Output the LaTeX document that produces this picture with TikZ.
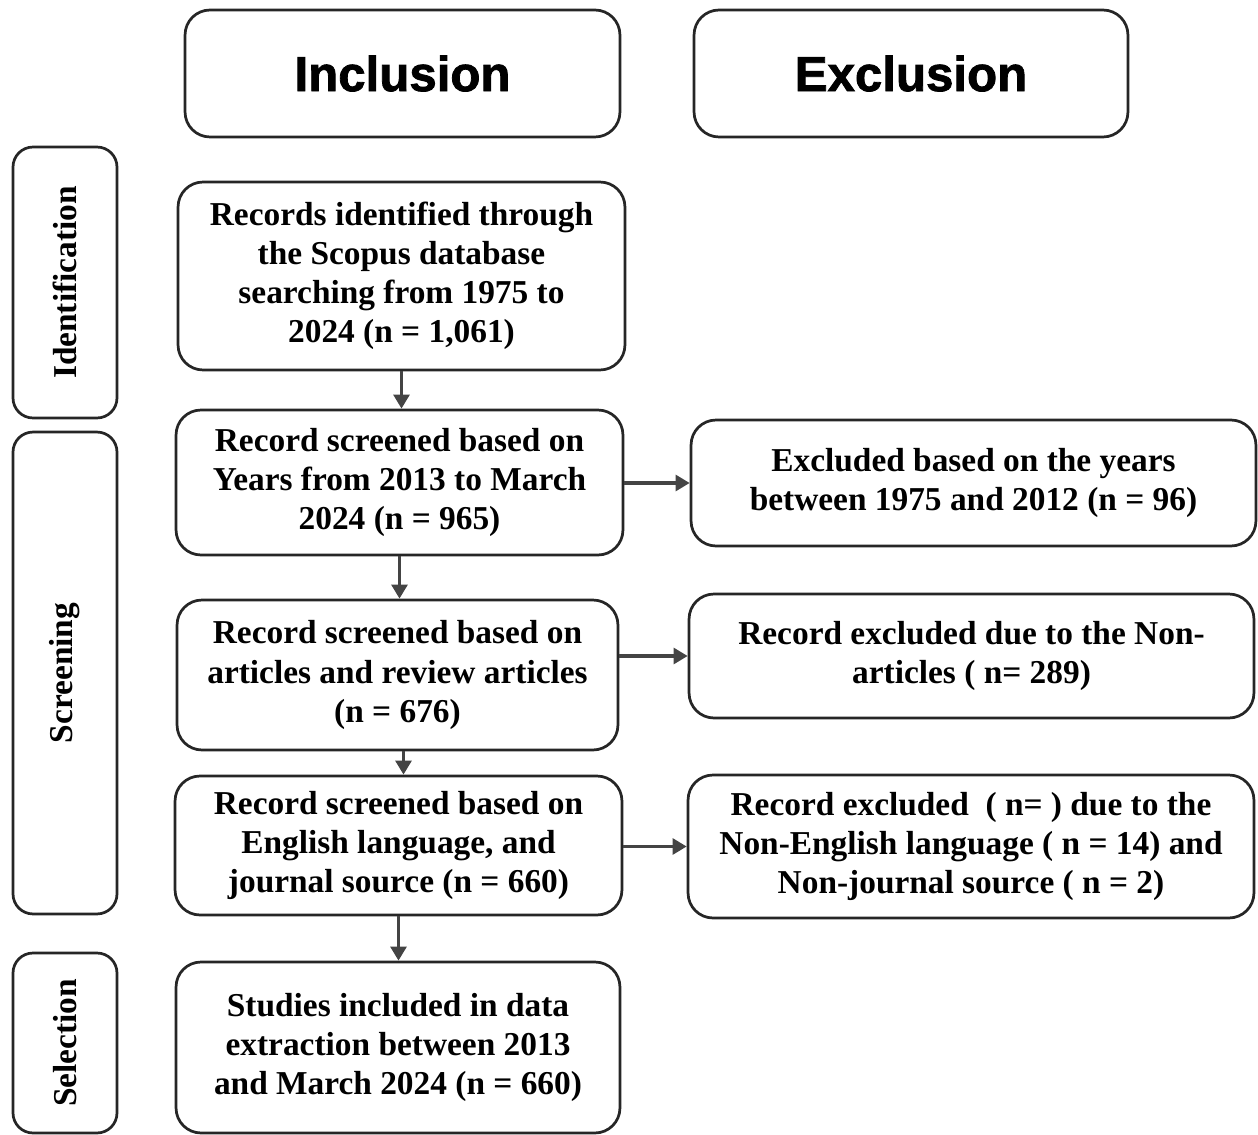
\documentclass[tikz,border=0pt]{standalone}
\usepackage{fontspec}
\setmainfont{Liberation Serif}
\newfontfamily\headfont{Liberation Sans}[BoldFeatures={FakeBold=1.6}]
\usetikzlibrary{arrows.meta}
\definecolor{edge}{HTML}{262626}
\definecolor{arr}{HTML}{444444}
\begin{document}
\begin{tikzpicture}[x=0.02cm,y=-0.02cm,
  box/.style={draw=edge, line width=1.55pt, rounded corners=0.5cm, align=center,
    inner sep=0pt, font=\fontsize{19}{22.3}\selectfont\bfseries},
  headbox/.style={box, font=\headfont\fontsize{28}{32}\selectfont\bfseries},
  sidebox/.style={box, rotate=90, rounded corners=0.4cm},
  conn/.style={draw=arr, line width=1.9pt, -{Triangle[length=8pt,width=9pt]}}]
\useasboundingbox (0,0) rectangle (1258,1135);
% headers
\node[headbox, minimum width=8.7cm, minimum height=2.54cm] (inc) at (402.5,73.5) {Inclusion};
\node[headbox, minimum width=8.68cm, minimum height=2.54cm] (exc) at (911,73.5) {Exclusion};
% side labels
\node[sidebox, minimum width=5.42cm, minimum height=2.08cm] (ident) at (65,282.5) {Identification};
\node[sidebox, minimum width=9.64cm, minimum height=2.08cm] (scr) at (65,673) {Screening};
\node[sidebox, minimum width=3.6cm, minimum height=2.08cm] (sel) at (65,1043) {Selection};
% main column
\node[box, minimum width=8.94cm, minimum height=3.76cm] (rec) at (401.5,276)
  {Records identified through\\the Scopus database\\searching from 1975 to\\2024 (n = 1,061)};
\node[box, minimum width=8.94cm, minimum height=2.9cm] (yrs) at (399.5,482.5)
  {Record screened based on\\Years from 2013 to March\\2024 (n = 965)};
\node[box, minimum width=8.82cm, minimum height=3.0cm] (art) at (397.5,675)
  {Record screened based on\\articles and review articles\\(n = 676)};
\node[box, minimum width=8.94cm, minimum height=2.78cm] (eng) at (398.5,845.5)
  {Record screened based on\\English language, and\\journal source (n = 660)};
\node[box, minimum width=8.88cm, minimum height=3.42cm] (stu) at (398,1047.5)
  {Studies included in data\\extraction between 2013\\and March 2024 (n = 660)};
% exclusion column
\node[box, minimum width=11.3cm, minimum height=2.52cm] (exy) at (973.5,483)
  {Excluded based on the years\\between 1975 and 2012 (n = 96)};
\node[box, minimum width=11.3cm, minimum height=2.48cm] (exa) at (971.5,656)
  {Record excluded due to the Non-\\articles ( n= 289)};
\node[box, minimum width=11.32cm, minimum height=2.86cm] (exe) at (971,846.5)
  {Record excluded\ \ ( n= ) due to the\\Non-English language ( n = 14) and\\Non-journal source ( n = 2)};
% connectors
\draw[conn] (rec.south) -- (rec.south |- yrs.north);
\draw[conn] (yrs.south) -- (yrs.south |- art.north);
\draw[conn] ([xshift=0.12cm]art.south) -- ([xshift=0.12cm]art.south |- eng.north);
\draw[conn] (eng.south) -- (eng.south |- stu.north);
\draw[conn] (yrs.east |- exy.west) -- (exy.west);
\draw[conn] (art.east |- exa.west) -- (exa.west);
\draw[conn] (eng.east |- exe.west) -- (exe.west);
\end{tikzpicture}
\end{document}
